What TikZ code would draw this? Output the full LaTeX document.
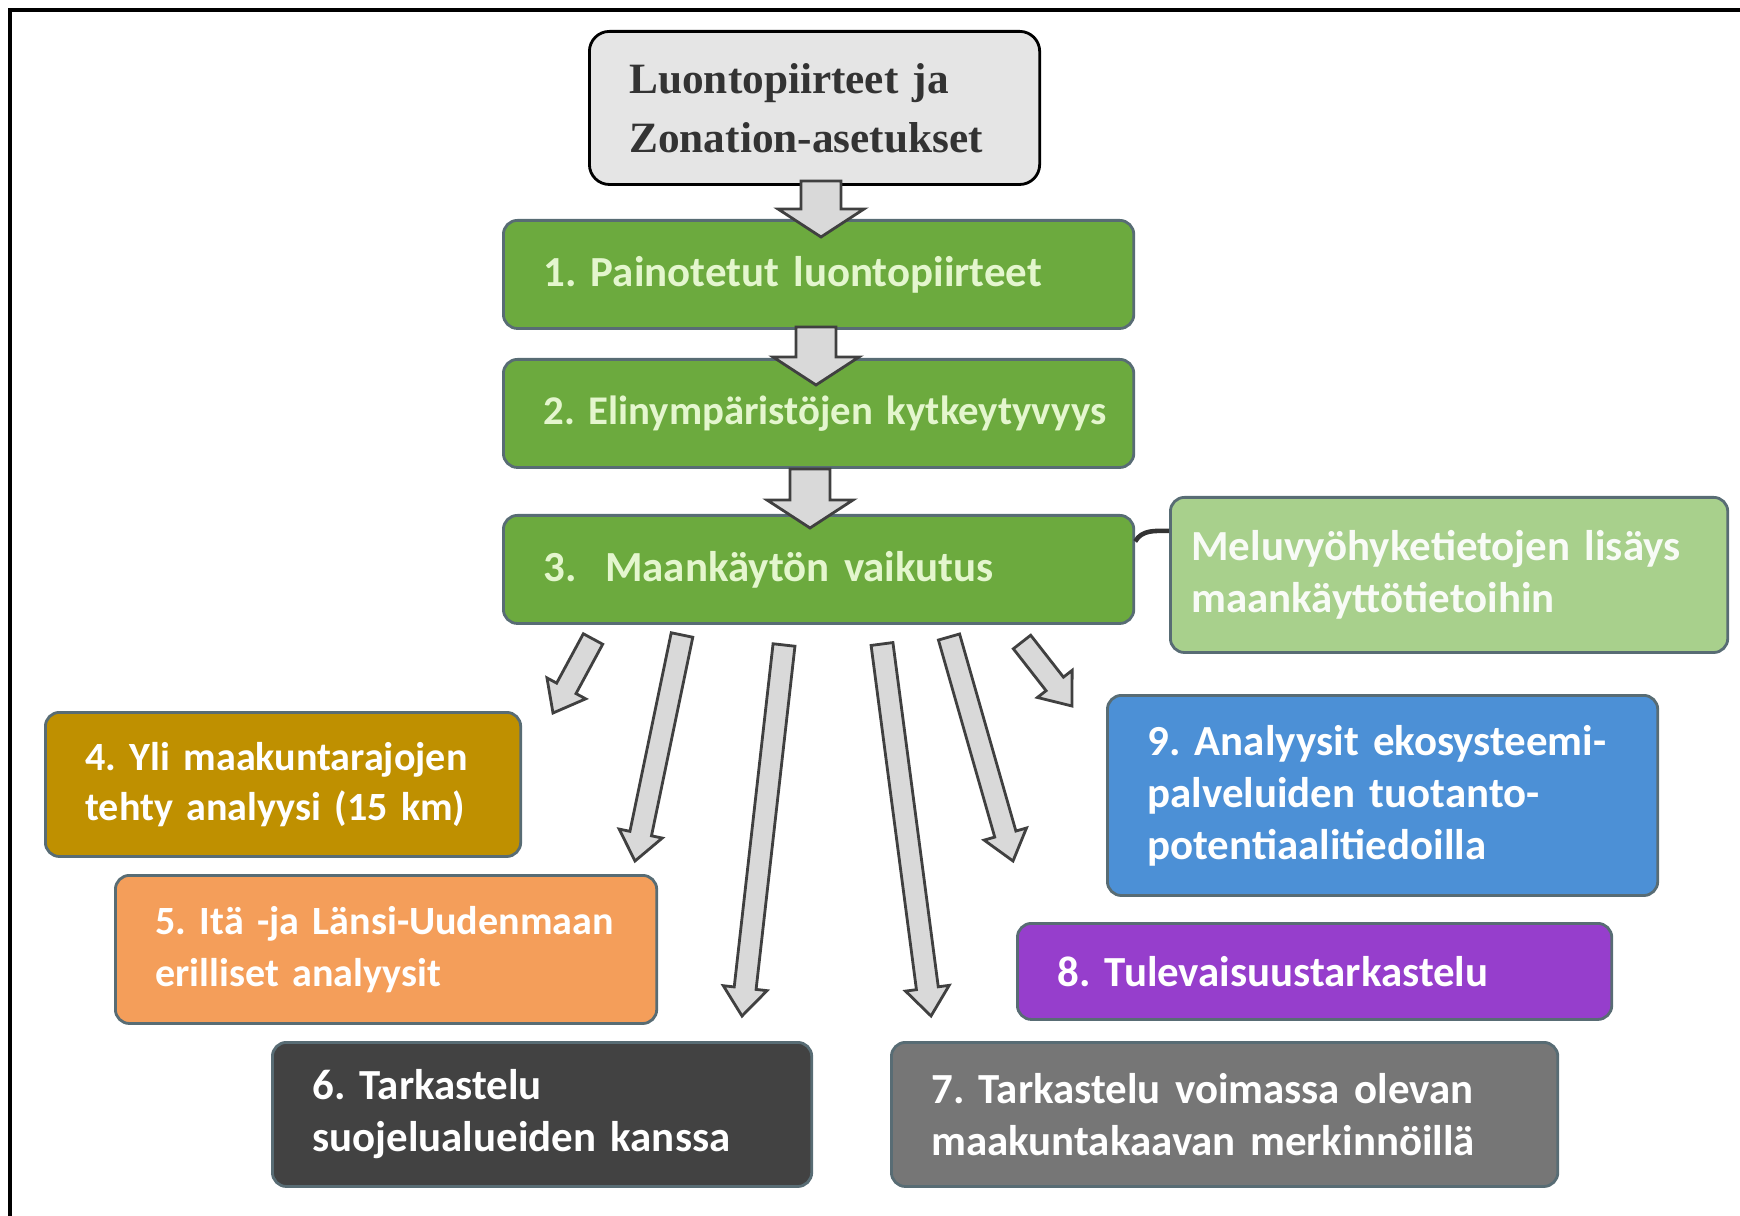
\documentclass[tikz,border=0pt]{standalone}
\usepackage{fontspec}
\setmainfont{Carlito}
\newfontfamily\titlefont{Liberation Serif}
\usetikzlibrary{calc}
\frenchspacing

\definecolor{stepgreen}{RGB}{108,170,62}
\definecolor{lightgreen}{RGB}{168,208,140}
\definecolor{paletext}{RGB}{228,246,206}
\definecolor{gold}{RGB}{191,144,0}
\definecolor{orange}{RGB}{244,158,90}
\definecolor{darkgrey}{RGB}{66,66,66}
\definecolor{midgrey}{RGB}{118,118,118}
\definecolor{violet}{RGB}{150,62,204}
\definecolor{skyblue}{RGB}{76,144,214}
\definecolor{slate}{RGB}{88,108,116}

\tikzstyle{box}=[rectangle, rounded corners=1.4mm, draw=slate, line width=0.8pt, anchor=north west, inner xsep=4mm, inner ysep=0pt, align=left, text=white, font=\bfseries\fontsize{12.2}{14.8}\selectfont]
\tikzstyle{stepbox}=[box, fill=stepgreen, text=paletext, text width=5.5cm, minimum height=1.08cm]
\tikzstyle{blockarrow}=[draw=black!75, fill=black!15, line width=0.8pt, line join=miter]
\tikzstyle{link}=[draw=black!80, line width=1.3pt]

\begin{document}
\begin{tikzpicture}[x=0.01cm, y=-0.01cm]

  \useasboundingbox (0,0) rectangle (1740,1216);
  \draw[line width=1pt] (10,1216) -- (10,10) -- (1740,10);

  % input data
  \node[box, draw=black, fill=black!10, text=black!80, rounded corners=2mm, text width=3.7cm, minimum height=1.53cm, font=\titlefont\bfseries\fontsize{12.3}{16.8}\selectfont] (src) at (588,30) {Luontopiirteet ja\\Zonation-asetukset};

  % main steps
  \foreach \name/\y/\size/\label in {g1/219/12.2/{1. Painotetut luontopiirteet}, g2/358/11.6/{2. Elinympäristöjen kytkeytyvyys}, g3/514/12.2/{3.\ \ Maankäytön vaikutus}}
    \node[stepbox, font=\bfseries\fontsize{\size}{14.8}\selectfont] (\name) at (502,\y) {\mbox{\label}};

  \node[box, fill=lightgreen, text=white!92!lightgreen, inner xsep=2.1mm, text width=5.15cm, minimum height=1.55cm] (noise) at (1169,496) {\mbox{Meluvyöhyketietojen lisäys}\\maankäyttötietoihin};
  \draw[link] ([yshift=2.8mm]g3.east) to[out=60, in=180] ([yshift=4.4mm]noise.west);

  % analyses
  \node[box, fill=gold, text width=3.95cm, minimum height=1.44cm, font=\bfseries\fontsize{11.4}{14.2}\selectfont] (b4) at (44,711) {\mbox{4. Yli maakuntarajojen}\\\mbox{tehty analyysi (15 km)}};
  \node[box, fill=orange, text width=4.61cm, minimum height=1.48cm, font=\bfseries\fontsize{11.4}{14.6}\selectfont] (b5) at (114,874) {\mbox{5. Itä -ja Länsi-Uudenmaan}\\\mbox{erilliset analyysit}};
  \node[box, fill=darkgrey, text width=4.59cm, minimum height=1.44cm] (b6) at (271,1041) {\mbox{6. Tarkastelu}\\\mbox{suojelualueiden kanssa}};
  \node[box, fill=midgrey, text width=5.86cm, minimum height=1.44cm] (b7) at (890,1041) {\mbox{7. Tarkastelu voimassa olevan}\\\mbox{maakuntakaavan merkinnöillä}};
  \node[box, fill=violet, text width=5.14cm, minimum height=0.96cm] (b8) at (1016,922) {8. Tulevaisuustarkastelu};
  \node[box, fill=skyblue, text width=4.7cm, minimum height=2.0cm] (b9) at (1106,694) {\mbox{9. Analyysit ekosysteemi-}\\\mbox{palveluiden tuotanto-}\\\mbox{potentiaalitiedoilla}};

  % arrow ends
  \foreach \n/\xs/\ys/\xt/\yt in {v1/821/181/821/237, v2/816/327/816/385, v3/810/469/810/528,
      a4/593/639/553/713, a5/682/635/635/861, a6/784/645/742/1016,
      a7/882/644/931/1016, a8/949/637/1013/861, a9/1022/642/1072/706}
  {
    \coordinate (\n-s) at (\xs,\ys);
    \coordinate (\n-t) at (\xt,\yt);
  }

  \foreach \n/\w/\hw in {v1/2mm/4.3mm, v2/2mm/4.3mm, v3/2mm/4.3mm,
      a4/1.1mm/2.2mm, a5/1.1mm/2.2mm, a6/1.1mm/2.2mm, a7/1.1mm/2.2mm, a8/1.1mm/2.2mm, a9/1.1mm/2.2mm}
  {
    \coordinate (h) at ($(\n-t)!2.8mm!(\n-s)$);
    \draw[blockarrow] ($(\n-s)!\w!90:(\n-t)$) -- ($(h)!\w!90:(\n-t)$) -- ($(h)!\hw!90:(\n-t)$) -- (\n-t)
      -- ($(h)!\hw!-90:(\n-t)$) -- ($(h)!\w!-90:(\n-t)$) -- ($(\n-s)!\w!-90:(\n-t)$) -- cycle;
  }

\end{tikzpicture}
\end{document}
